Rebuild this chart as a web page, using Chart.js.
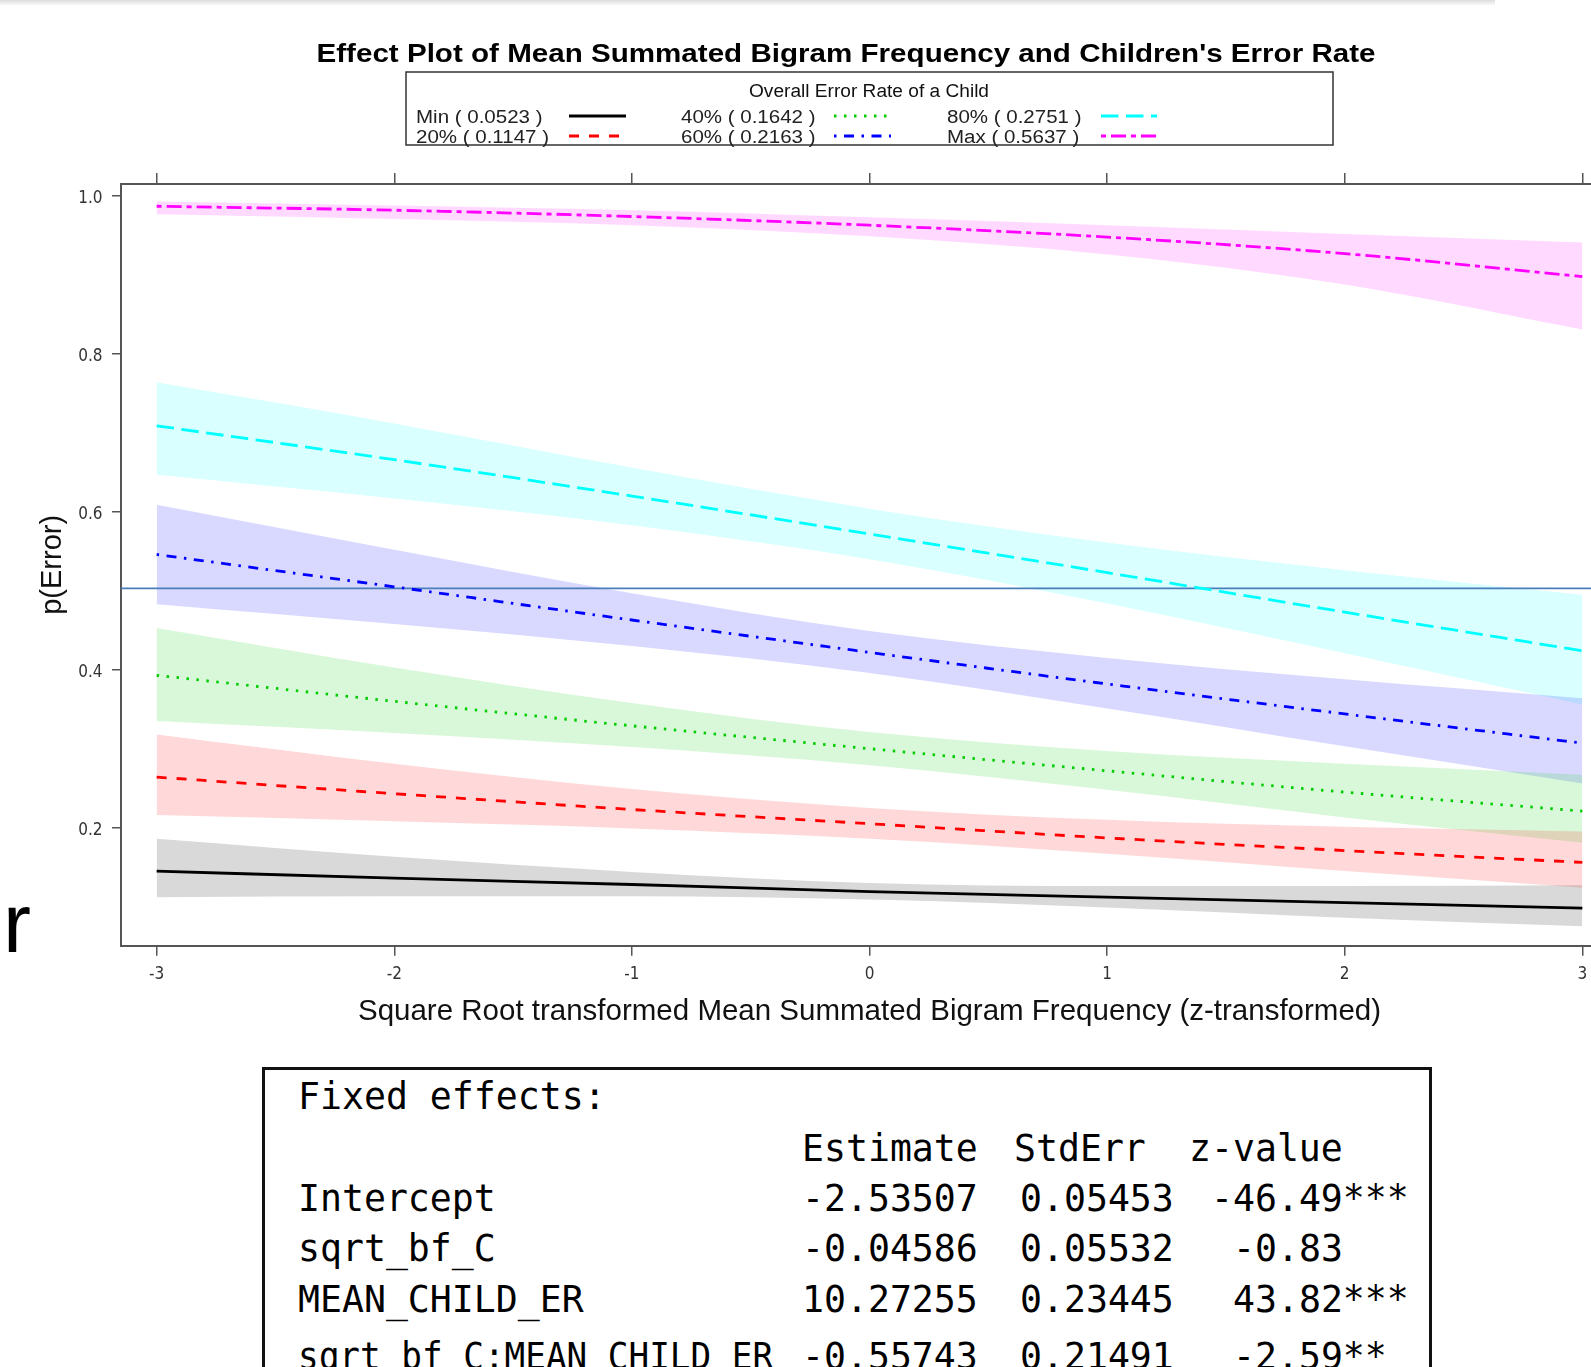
<!DOCTYPE html>
<html>
<head>
<meta charset="utf-8">
<title>Effect plot</title>
<script src="https://cdn.jsdelivr.net/npm/chart.js@4.4.1/dist/chart.umd.min.js"></script>
<style>
  html, body { margin: 0; padding: 0; background: #fff; overflow: hidden; }
  #wrap { position: relative; width: 1591px; height: 1367px; overflow: hidden; background: #fff; }
  #effect-chart { position: absolute; left: 0; top: 0; }
  .shade { position: absolute; left: 0; top: 0; width: 1495px; height: 6px; background: linear-gradient(#dcdcdc, #fff); }
  .stray { position: absolute; left: 3px; top: 881px; font: 84px/1 "Liberation Sans", Arial, sans-serif; color: #000; }
  .coef { position: absolute; left: 262px; top: 1067px; width: 1164px; height: 420px; border: 3px solid #111;
          font-family: "DejaVu Sans Mono", monospace; font-size: 36.5px; color: #000; }
  .coef span { position: absolute; white-space: pre; line-height: 1; }
</style>
</head>
<body>
<div id="wrap">
  <div class="shade"></div>
  <canvas id="effect-chart" width="1640" height="1040"></canvas>
  <div class="stray">r</div>
  <div class="coef" id="coef"></div>
</div>
<script>
// x positions the effects were read at
const xValues = [-3, -2, -1, 0, 1, 2, 3];

// fitted p(Error) and band edges for each child error-rate level
const minFit   = [0.145, 0.136, 0.128, 0.119, 0.112, 0.105, 0.098];
const minUpper = [0.186, 0.163, 0.144, 0.130, 0.126, 0.126, 0.127];
const minLower = [0.112, 0.113, 0.113, 0.109, 0.099, 0.086, 0.075];

const p20Fit   = [0.264, 0.243, 0.223, 0.205, 0.187, 0.171, 0.156];
const p20Upper = [0.318, 0.281, 0.249, 0.225, 0.210, 0.201, 0.195];
const p20Lower = [0.216, 0.208, 0.199, 0.186, 0.167, 0.145, 0.124];

const p40Fit   = [0.393, 0.360, 0.329, 0.300, 0.272, 0.245, 0.221];
const p40Upper = [0.453, 0.403, 0.358, 0.321, 0.297, 0.281, 0.267];
const p40Lower = [0.335, 0.320, 0.302, 0.279, 0.248, 0.213, 0.181];

const p60Fit   = [0.546, 0.505, 0.463, 0.422, 0.382, 0.344, 0.307];
const p60Upper = [0.609, 0.552, 0.497, 0.449, 0.415, 0.388, 0.364];
const p60Lower = [0.483, 0.458, 0.430, 0.396, 0.351, 0.303, 0.256];

const p80Fit   = [0.709, 0.666, 0.620, 0.572, 0.523, 0.473, 0.424];
const p80Upper = [0.764, 0.712, 0.656, 0.604, 0.561, 0.526, 0.495];
const p80Lower = [0.647, 0.617, 0.583, 0.540, 0.484, 0.421, 0.356];

const maxFit   = [0.987, 0.982, 0.974, 0.963, 0.948, 0.927, 0.898];
const maxUpper = [0.993, 0.988, 0.982, 0.973, 0.963, 0.952, 0.941];
const maxLower = [0.977, 0.971, 0.963, 0.949, 0.926, 0.888, 0.831];

const levels = ['Min', '20%', '40%', '60%', '80%', 'Max'];
const childRates = ['0.0523', '0.1147', '0.1642', '0.2163', '0.2751', '0.5637'];

const refLevel = 0.503;   // the blue horizontal line
const xTicks = [-3, -2, -1, 0, 1, 2, 3];
const yTicks = [0.2, 0.4, 0.6, 0.8, 1.0];

const plotTitle = "Effect Plot of Mean Summated Bigram Frequency and Children's Error Rate";
const legendTitle = 'Overall Error Rate of a Child';
const xTitle = 'Square Root transformed Mean Summated Bigram Frequency (z-transformed)';
const yTitle = 'p(Error)';

// coefficient table text
const coefNames = ['Intercept', 'sqrt_bf_C', 'MEAN_CHILD_ER', 'sqrt_bf_C:MEAN_CHILD_ER'];
const estimates = ['-2.53507', '-0.04586', '10.27255', '-0.55743'];
const stdErrs = ['0.05453', '0.05532', '0.23445', '0.21491'];
const zValues = ['-46.49', '-0.83', '43.82', '-2.59'];
const signif = ['***', '', '***', '**'];

const xMin = -3.15, xMax = 3.15;
const yMin = 0.0505, yMax = 1.0152;

const lineFits = [minFit, p20Fit, p40Fit, p60Fit, p80Fit, maxFit];
const upperEdges = [minUpper, p20Upper, p40Upper, p60Upper, p80Upper, maxUpper];
const lowerEdges = [minLower, p20Lower, p40Lower, p60Lower, p80Lower, maxLower];
const lineColors = ['#000000', '#ff0000', '#00cd00', '#0000ff', '#00ffff', '#ff00ff'];
const bandColors = ['rgba(0,0,0,0.15)', 'rgba(255,0,0,0.15)', 'rgba(0,205,0,0.15)',
                    'rgba(0,0,255,0.15)', 'rgba(0,255,255,0.15)', 'rgba(255,0,255,0.15)'];
const dashes = [[], [10, 10], [2.5, 7.5], [2.5, 7.5, 10, 7.5], [17.5, 7.5], [5, 5, 15, 5]];
const lineW = 2.8;

const toPoints = (ys) => xValues.map((x, i) => ({x: x, y: ys[i]}));

let datasets = [];
levels.forEach((lv, i) => {
    datasets.push({
        label: lv + ' upper',
        data: toPoints(upperEdges[i]),
        borderWidth: 0,
        pointRadius: 0,
        fill: '+1',
        backgroundColor: bandColors[i],
        cubicInterpolationMode: 'monotone',
        order: 3
    });
    datasets.push({
        label: lv + ' lower',
        data: toPoints(lowerEdges[i]),
        borderWidth: 0,
        pointRadius: 0,
        fill: false,
        cubicInterpolationMode: 'monotone',
        order: 3
    });
});
levels.forEach((lv, i) => {
    datasets.push({
        label: lv,
        data: toPoints(lineFits[i]),
        borderColor: lineColors[i],
        borderWidth: lineW,
        borderDash: dashes[i],
        borderCapStyle: 'butt',
        pointRadius: 0,
        fill: false,
        cubicInterpolationMode: 'monotone',
        order: 1
    });
});
datasets.push({
    label: 'reference',
    data: [{x: xMin, y: refLevel}, {x: xMax, y: refLevel}],
    borderColor: '#4a7ebb',
    borderWidth: 1.8,
    pointRadius: 0,
    fill: false,
    order: 2
});

// squeeze / stretch a text to the width it has in the picture
function fitText(ctx, text, x, y, width, font, color, align) {
    ctx.font = font;
    const w = ctx.measureText(text).width;
    ctx.save();
    ctx.translate(x, y);
    ctx.scale(width / w, 1);
    ctx.fillStyle = color;
    ctx.textAlign = align || 'center';
    ctx.textBaseline = 'middle';
    ctx.fillText(text, 0, 0);
    ctx.restore();
}

const titleAndLegend = {
    id: 'titleAndLegend',
    afterDraw(chart) {
        const ctx = chart.ctx;
        fitText(ctx, plotTitle, 846, 55, 1059, 'bold 26px "Liberation Sans", Arial, sans-serif', '#000');

        ctx.save();
        ctx.strokeStyle = '#333';
        ctx.lineWidth = 1.5;
        ctx.strokeRect(406, 72, 927, 73);
        ctx.restore();

        fitText(ctx, legendTitle, 869, 92, 240, '18px "Liberation Sans", Arial, sans-serif', '#111');

        const textLeft = [416, 681, 947];
        const sampleX = [[569, 626], [834, 891], [1101, 1157]];
        const rowY = [118, 138];
        ctx.font = '18px "Liberation Sans", Arial, sans-serif';
        const sx = 133 / ctx.measureText('20% ( 0.1147 )').width;
        levels.forEach((lv, i) => {
            const col = Math.floor(i / 2), row = i % 2;
            const label = lv + ' ( ' + childRates[i] + ' )';
            ctx.save();
            ctx.translate(textLeft[col], rowY[row]);
            ctx.scale(sx, 1);
            ctx.fillStyle = '#222';
            ctx.textAlign = 'left';
            ctx.textBaseline = 'middle';
            ctx.fillText(label, 0, 0);
            ctx.restore();

            ctx.save();
            ctx.strokeStyle = lineColors[i];
            ctx.lineWidth = lineW;
            ctx.setLineDash(dashes[i]);
            ctx.beginPath();
            ctx.moveTo(sampleX[col][0], rowY[row] - 2);
            ctx.lineTo(sampleX[col][1], rowY[row] - 2);
            ctx.stroke();
            ctx.restore();
        });
    }
};

const tickFont = {family: '"Liberation Sans Narrow", "DejaVu Sans Condensed", "Liberation Sans", Arial, sans-serif', size: 17};
const axisGrid = (len) => ({drawOnChartArea: false, drawTicks: true, tickLength: len, color: '#555', lineWidth: 1.5});
const axisBorder = {display: true, color: '#555', width: 2};

const effectChart = new Chart(document.getElementById('effect-chart'), {
    type: 'line',
    data: {datasets: datasets},
    options: {
        responsive: false,
        animation: false,
        events: [],
        layout: {padding: {top: 173, left: 0, right: 22, bottom: 0}},
        plugins: {
            legend: {display: false},
            tooltip: {enabled: false},
            title: {display: false}
        },
        scales: {
            x: {
                type: 'linear',
                position: 'bottom',
                min: xMin,
                max: xMax,
                afterBuildTicks: (s) => { s.ticks = xTicks.map(v => ({value: v})); },
                afterFit: (s) => { s.height = 94.3; },
                grid: axisGrid(10),
                border: axisBorder,
                ticks: {padding: 9, color: '#333', font: tickFont, callback: (v) => String(v)},
                title: {
                    display: true,
                    text: xTitle,
                    color: '#111',
                    font: {family: '"Liberation Sans", Arial, sans-serif', size: 29.5},
                    padding: {top: 0, bottom: 10}
                }
            },
            x2: {
                type: 'linear',
                axis: 'x',
                position: 'top',
                min: xMin,
                max: xMax,
                afterBuildTicks: (s) => { s.ticks = xTicks.map(v => ({value: v})); },
                afterFit: (s) => { s.height = 11; },
                grid: axisGrid(11),
                border: axisBorder,
                ticks: {display: false}
            },
            y: {
                type: 'linear',
                min: yMin,
                max: yMax,
                afterBuildTicks: (s) => { s.ticks = yTicks.map(v => ({value: v})); },
                afterFit: (s) => { s.width = 121; },
                grid: axisGrid(9),
                border: axisBorder,
                ticks: {padding: 9.5, labelOffset: 2.5, color: '#333', font: tickFont, callback: (v) => v.toFixed(1)},
                title: {
                    display: true,
                    text: yTitle,
                    color: '#111',
                    font: {family: '"Liberation Sans", Arial, sans-serif', size: 29},
                    padding: {top: 36, bottom: 0}
                }
            }
        }
    },
    plugins: [titleAndLegend]
});

// coefficient box under the plot
const coefBox = document.getElementById('coef');
const addCell = (text, left, top) => {
    const el = document.createElement('span');
    el.textContent = text;
    el.style.left = left + 'px';
    el.style.top = top + 'px';
    coefBox.appendChild(el);
    return el;
};
const charW = 22;
const zRight = 1078;
addCell('Fixed effects:', 33, 9);
addCell('Estimate', 537, 61);
addCell('StdErr', 749, 61);
addCell('z-value', zRight - 7 * charW, 61);
const rowTops = [111, 161, 212, 269];
coefNames.forEach((nm, i) => {
    const lab = addCell(nm, 33, rowTops[i]);
    if (nm.length > 20) {
        lab.style.transformOrigin = 'left top';
        lab.style.transform = 'scaleX(0.94)';
    }
    addCell(estimates[i], 537, rowTops[i]);
    addCell(stdErrs[i], 755, rowTops[i]);
    addCell(zValues[i] + signif[i], zRight - zValues[i].length * charW, rowTops[i]);
});
</script>
</body>
</html>
